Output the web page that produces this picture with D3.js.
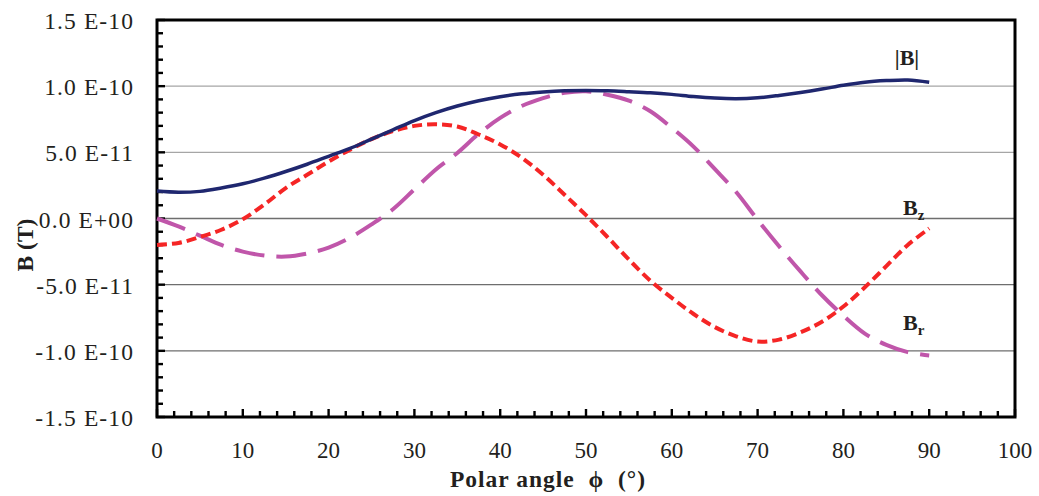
<!DOCTYPE html>
<html>
<head>
<meta charset="utf-8">
<script src="https://cdn.jsdelivr.net/npm/d3@7"></script>
<style>
  html, body { margin: 0; padding: 0; background: #fff; }
  svg { display: block; }
  text { font-family: "Liberation Serif", "Times New Roman", serif; fill: #231f20; }
</style>
</head>
<body>
<svg id="chart" width="1039" height="496"></svg>
<script>
// ---- Data ----
const phi = [0, 2.5, 5, 7.5, 10, 12.5, 15, 17.5, 20, 22.5, 25, 27.5, 30, 32.5, 35, 37.5, 40, 42.5, 45, 47.5,
             50, 52.5, 55, 57.5, 60, 62.5, 65, 67.5, 70, 72.5, 75, 77.5, 80, 82.5, 85, 87.5, 90];
// values in units of 1e-11 T
const Bmag = [2.07, 1.98, 2.05, 2.3, 2.62, 3.05, 3.55, 4.1, 4.7, 5.3, 6.0, 6.7, 7.4, 8.0, 8.5, 8.9, 9.2, 9.42, 9.56, 9.65,
              9.68, 9.65, 9.58, 9.5, 9.38, 9.22, 9.1, 9.05, 9.12, 9.3, 9.52, 9.78, 10.07, 10.3, 10.42, 10.47, 10.3];
const Bz = [-2.0, -1.85, -1.4, -0.85, -0.05, 1.05, 2.3, 3.3, 4.3, 5.2, 6.0, 6.6, 7.0, 7.12, 6.95, 6.35, 5.6, 4.6, 3.3, 1.8,
            0.25, -1.4, -3.1, -4.7, -6.0, -7.2, -8.2, -8.9, -9.3, -9.15, -8.6, -7.8, -6.65, -5.2, -3.6, -2.0, -0.75];
const Br = [0, -0.6, -1.3, -2.0, -2.5, -2.8, -2.88, -2.65, -2.2, -1.45, -0.45, 0.7, 2.2, 3.7, 4.95, 6.4, 7.6, 8.5, 9.1, 9.5,
            9.62, 9.35, 8.9, 8.1, 6.85, 5.45, 3.75, 2.0, -0.1, -2.1, -4.0, -5.8, -7.35, -8.7, -9.55, -10.1, -10.35];
const yTicks = [-15, -10, -5, 0, 5, 10, 15];
const yTickLabels = ["-1.5 E-10", "-1.0 E-10", "-5.0 E-11", "0.0 E+00", "5.0 E-11", "1.0 E-10", "1.5 E-10"];
const xTicks = [0, 10, 20, 30, 40, 50, 60, 70, 80, 90, 100];

// ---- Layout ----
const svg = d3.select("#chart");
const pLeft = 157, pRight = 1015, pTop = 20, pBottom = 417;
const x = d3.scaleLinear().domain([0, 100]).range([pLeft, pRight]);
const y = d3.scaleLinear().domain([-15, 15]).range([pBottom, pTop]);

// grid lines
svg.append("g").selectAll("line")
  .data(yTicks.filter(d => d > -15 && d < 15))
  .join("line")
  .attr("x1", pLeft).attr("x2", pRight)
  .attr("y1", d => y(d)).attr("y2", d => y(d))
  .attr("stroke", d => d > 0 ? "#a6a6a6" : "#6e6e6e")
  .attr("stroke-width", 1.3);

// minor/major ticks (inside)
const yMinor = d3.range(-15, 15.01, 1);
svg.append("g").selectAll("line").data(yMinor).join("line")
  .attr("x1", pLeft).attr("x2", d => pLeft + (d % 5 === 0 ? 8 : 6))
  .attr("y1", d => y(d)).attr("y2", d => y(d))
  .attr("stroke", "#000").attr("stroke-width", 2.4);
const xMinor = d3.range(0, 100.01, 2);
svg.append("g").selectAll("line").data(xMinor).join("line")
  .attr("x1", d => x(d)).attr("x2", d => x(d))
  .attr("y1", pBottom).attr("y2", d => pBottom - (d % 10 === 0 ? 8 : 6))
  .attr("stroke", "#000").attr("stroke-width", 2.4);

// frame
svg.append("rect")
  .attr("x", pLeft).attr("y", pTop)
  .attr("width", pRight - pLeft).attr("height", pBottom - pTop)
  .attr("fill", "none").attr("stroke", "#000").attr("stroke-width", 3);

// tick labels
svg.append("g").selectAll("text").data(yTicks).join("text")
  .attr("x", 134).attr("y", d => y(d) + 9)
  .attr("text-anchor", "end")
  .attr("font-size", 23.5)
  .attr("letter-spacing", 1.1)
  .text((d, i) => yTickLabels[i]);
svg.append("g").selectAll("text").data(xTicks).join("text")
  .attr("x", d => x(d)).attr("y", 458)
  .attr("text-anchor", "middle")
  .attr("font-size", 23)
  .text(d => d);

// axis titles
svg.append("text")
  .attr("x", 548).attr("y", 487)
  .attr("text-anchor", "middle")
  .attr("font-size", 23.5).attr("font-weight", "bold")
  .attr("letter-spacing", 1)
  .attr("xml:space", "preserve")
  .text("Polar angle  \u03d5  (\u00b0)");
svg.append("text")
  .attr("transform", "translate(33,245) rotate(-90)")
  .attr("text-anchor", "middle")
  .attr("font-size", 23.5).attr("font-weight", "bold")
  .text("B (T)");

// lines
const line = vals => d3.line()
  .x((d, i) => x(phi[i]))
  .y(d => y(d))
  .curve(d3.curveCatmullRom.alpha(0.5))(vals);

svg.append("path").attr("d", line(Br))
  .attr("fill", "none").attr("stroke", "#c056aa").attr("stroke-width", 4)
  .attr("stroke-dasharray", "30,12");
svg.append("path").attr("d", line(Bz))
  .attr("fill", "none").attr("stroke", "#f52525").attr("stroke-width", 4)
  .attr("stroke-dasharray", "10,5");
svg.append("path").attr("d", line(Bmag))
  .attr("fill", "none").attr("stroke", "#1f276f").attr("stroke-width", 3.5);

// series labels
svg.append("text").attr("x", 907).attr("y", 65)
  .attr("text-anchor", "middle").attr("font-size", 22).attr("font-weight", "bold")
  .text("|B|");
const lz = svg.append("text").attr("x", 903).attr("y", 215)
  .attr("font-size", 22).attr("font-weight", "bold");
lz.append("tspan").text("B");
lz.append("tspan").attr("font-size", 15).attr("dy", 5).text("z");
const lr = svg.append("text").attr("x", 903).attr("y", 330)
  .attr("font-size", 22).attr("font-weight", "bold");
lr.append("tspan").text("B");
lr.append("tspan").attr("font-size", 15).attr("dy", 5).text("r");
</script>
</body>
</html>
